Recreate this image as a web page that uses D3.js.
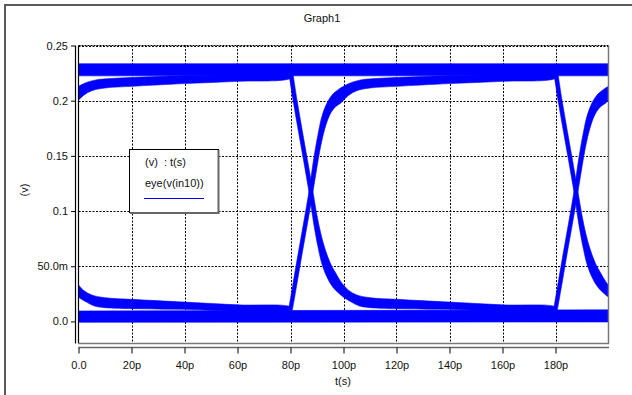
<!DOCTYPE html>
<html>
<head>
<meta charset="utf-8">
<script src="https://cdn.jsdelivr.net/npm/d3@7"></script>
<style>
  html, body { margin: 0; padding: 0; background: #fff; }
  svg { display: block; font-family: "Liberation Sans", Arial, sans-serif; }
</style>
</head>
<body>
<svg id="chart" width="632" height="395"></svg>
<script>
// Axis ticks (time in ps, voltage in V)
const xTicks = [0, 20, 40, 60, 80, 100, 120, 140, 160, 180]
const xTickLabels = ["0.0", "20p", "40p", "60p", "80p", "100p", "120p", "140p", "160p", "180p"]
const yTicks = [0, 0.05, 0.1, 0.15, 0.2, 0.25]
const yTickLabels = ["0.0", "50.0m", "0.1", "0.15", "0.2", "0.25"]

// Eye diagram: unit interval starts (ps), transition shapes repeat each UI
const uiStarts = [-100, 0, 100]

// Rising transition, leading (upper-left) and trailing (lower-right) edge of the bundle
const riseEarly = [[79.3, 0.011], [81, 0.035], [83, 0.063], [85, 0.090], [87, 0.118], [88.8, 0.148], [90.5, 0.171], [92, 0.187],
  [94, 0.199], [96, 0.206], [98, 0.210], [100, 0.213], [103, 0.2165], [107, 0.219], [112, 0.220], [120, 0.221],
  [140, 0.2225], [160, 0.2235], [180, 0.2245]]
const riseLate = [[80.7, 0.010], [82.5, 0.035], [84.5, 0.063], [86.5, 0.090], [88.5, 0.118], [90, 0.140], [91.5, 0.160], [93, 0.175],
  [95, 0.188], [97, 0.1945], [99, 0.198], [100, 0.2005], [102, 0.205], [105, 0.209], [110, 0.2115], [120, 0.213],
  [140, 0.2155], [160, 0.2175], [180, 0.2205]]

// Falling transition, leading (lower-left) and trailing (upper-right) edge of the bundle
const fallEarly = [[79.3, 0.226], [81, 0.200], [83, 0.172], [85, 0.145], [87, 0.117], [88.8, 0.088], [90.5, 0.066], [92, 0.051],
  [94, 0.039], [96, 0.031], [98, 0.026], [100, 0.022], [103, 0.0175], [106, 0.014], [110, 0.0125], [140, 0.011], [180, 0.010]]
const fallLate = [[80.7, 0.228], [82.5, 0.200], [84.5, 0.172], [86.5, 0.145], [88.5, 0.117], [90, 0.096], [91.5, 0.079], [93, 0.066],
  [95, 0.053], [97, 0.044], [99, 0.036], [100, 0.033], [102, 0.028], [105, 0.024], [110, 0.0215], [120, 0.020],
  [140, 0.0175], [160, 0.015], [180, 0.013]]

// Steady high / low levels: [t, low edge, high edge]
const highRail = [[0, 0.2225, 0.2335], [200, 0.2225, 0.2335]]
const lowRail = [[0, -0.0008, 0.0095], [200, -0.0005, 0.0105]]

// Layout
const W = 632, H = 395
const plot = { left: 78.5, right: 608.5, top: 45.5, bottom: 343.5 }
const blue = "#0000ff"

const svg = d3.select("#chart")
const x = d3.scaleLinear().domain([0, 200]).range([plot.left, plot.right])
const y = d3.scaleLinear().domain([-0.02, 0.25]).range([plot.bottom, plot.top])

// Window frame
svg.append("path")
  .attr("d", `M5,${H}V5H${W}`)
  .attr("fill", "none")
  .attr("stroke", "#5a5a5a")
  .attr("stroke-width", 2)

// Title
svg.append("text")
  .attr("x", 322).attr("y", 22)
  .attr("text-anchor", "middle")
  .attr("font-size", "11px")
  .attr("fill", "#111")
  .text("Graph1")

// Grid
const grid = svg.append("g")
  .attr("stroke", "#000")
  .attr("stroke-width", 1)
  .attr("stroke-dasharray", "2,1.5")
grid.selectAll("line.v")
  .data(xTicks.filter(d => d > 0))
  .join("line")
  .attr("class", "v")
  .attr("x1", d => Math.round(x(d)) + 0.5).attr("x2", d => Math.round(x(d)) + 0.5)
  .attr("y1", plot.top).attr("y2", plot.bottom)
grid.selectAll("line.h")
  .data(yTicks)
  .join("line")
  .attr("class", "h")
  .attr("x1", plot.left).attr("x2", plot.right)
  .attr("y1", d => Math.round(y(d)) + 0.5).attr("y2", d => Math.round(y(d)) + 0.5)

// Traces
svg.append("clipPath").attr("id", "clip")
  .append("rect")
  .attr("x", plot.left).attr("y", plot.top)
  .attr("width", plot.right - plot.left).attr("height", plot.bottom - plot.top)

const traces = svg.append("g").attr("clip-path", "url(#clip)")

const rail = d3.area()
  .x(d => x(d[0]))
  .y0(d => y(d[1]))
  .y1(d => y(d[2]))
traces.selectAll("path.rail")
  .data([highRail, lowRail])
  .join("path")
  .attr("class", "rail")
  .attr("d", rail)
  .attr("fill", blue)
  .attr("stroke", blue)
  .attr("stroke-width", 0.6)

const ribbon = (off) => d3.line()
  .x(d => x(d[0] + off))
  .y(d => y(d[1]))
  .curve(d3.curveCatmullRom)

const bundles = []
uiStarts.forEach(off => {
  bundles.push({ off, pts: riseEarly.concat(riseLate.slice().reverse()) })
  bundles.push({ off, pts: fallEarly.concat(fallLate.slice().reverse()) })
})
traces.selectAll("path.bundle")
  .data(bundles)
  .join("path")
  .attr("class", "bundle")
  .attr("d", d => ribbon(d.off)(d.pts) + "Z")
  .attr("fill", blue)
  .attr("stroke", blue)
  .attr("stroke-width", 0.6)
  .attr("stroke-linejoin", "round")

// Plot frame
svg.append("line")
  .attr("x1", plot.left).attr("x2", plot.right)
  .attr("y1", plot.top).attr("y2", plot.top)
  .attr("stroke", "#000").attr("stroke-dasharray", "2,1")
svg.append("line")
  .attr("x1", plot.right).attr("x2", plot.right)
  .attr("y1", plot.top).attr("y2", plot.bottom + 0.5)
  .attr("stroke", "#777").attr("stroke-width", 1.5)
svg.append("line")
  .attr("x1", plot.left).attr("x2", plot.left)
  .attr("y1", plot.top).attr("y2", plot.bottom)
  .attr("stroke", "#000").attr("stroke-width", 1.2)
svg.append("line")
  .attr("x1", plot.left).attr("x2", plot.right + 0.5)
  .attr("y1", plot.bottom).attr("y2", plot.bottom)
  .attr("stroke", "#777").attr("stroke-width", 1.5)

// Y axis
const yAxis = svg.append("g")
  .attr("transform", "translate(75,0)")
  .call(d3.axisLeft(y).tickValues(yTicks).tickFormat((d, i) => yTickLabels[i]).tickSize(4).tickSizeOuter(0).tickPadding(3))
yAxis.select(".domain").attr("d", `M0.5,${plot.top}V${plot.bottom}`).attr("stroke", "#000").attr("stroke-width", 1.2)
yAxis.selectAll("text").attr("font-size", "11px").attr("fill", "#111").attr("font-family", "Liberation Sans, Arial, sans-serif")

svg.append("text")
  .attr("transform", "translate(28,190) rotate(-90)")
  .attr("text-anchor", "middle")
  .attr("font-size", "11px")
  .attr("fill", "#111")
  .text("(v)")

// X axis
const xAxis = svg.append("g")
  .attr("transform", "translate(0,347.5)")
  .call(d3.axisBottom(x).tickValues(xTicks).tickFormat((d, i) => xTickLabels[i]).tickSize(6).tickSizeOuter(0).tickPadding(8))
xAxis.select(".domain").attr("d", `M${plot.left},0H${plot.right + 0.5}`).attr("stroke", "#666").attr("stroke-width", 1.5)
xAxis.selectAll("text").attr("font-size", "11px").attr("fill", "#111").attr("font-family", "Liberation Sans, Arial, sans-serif")

svg.append("text")
  .attr("x", 343).attr("y", 385)
  .attr("text-anchor", "middle")
  .attr("font-size", "11px")
  .attr("fill", "#111")
  .text("t(s)")

// Legend
const legend = svg.append("g").attr("transform", "translate(129,149)")
legend.append("rect")
  .attr("x", 0.5).attr("y", 0.5).attr("width", 89).attr("height", 63)
  .attr("fill", "#fff").attr("stroke", "#000")
legend.append("path")
  .attr("d", "M89.5,1V64H1")
  .attr("fill", "none").attr("stroke", "#666").attr("stroke-width", 2)
legend.append("text")
  .attr("x", 16).attr("y", 17)
  .attr("font-size", "11px").attr("fill", "#111")
  .attr("xml:space", "preserve")
  .text("(v)  : t(s)")
legend.append("text")
  .attr("x", 16).attr("y", 38)
  .attr("font-size", "11px").attr("fill", "#111")
  .text("eye(v(in10))")
legend.append("line")
  .attr("x1", 15).attr("x2", 75)
  .attr("y1", 49.5).attr("y2", 49.5)
  .attr("stroke", blue).attr("stroke-width", 1)
</script>
</body>
</html>
